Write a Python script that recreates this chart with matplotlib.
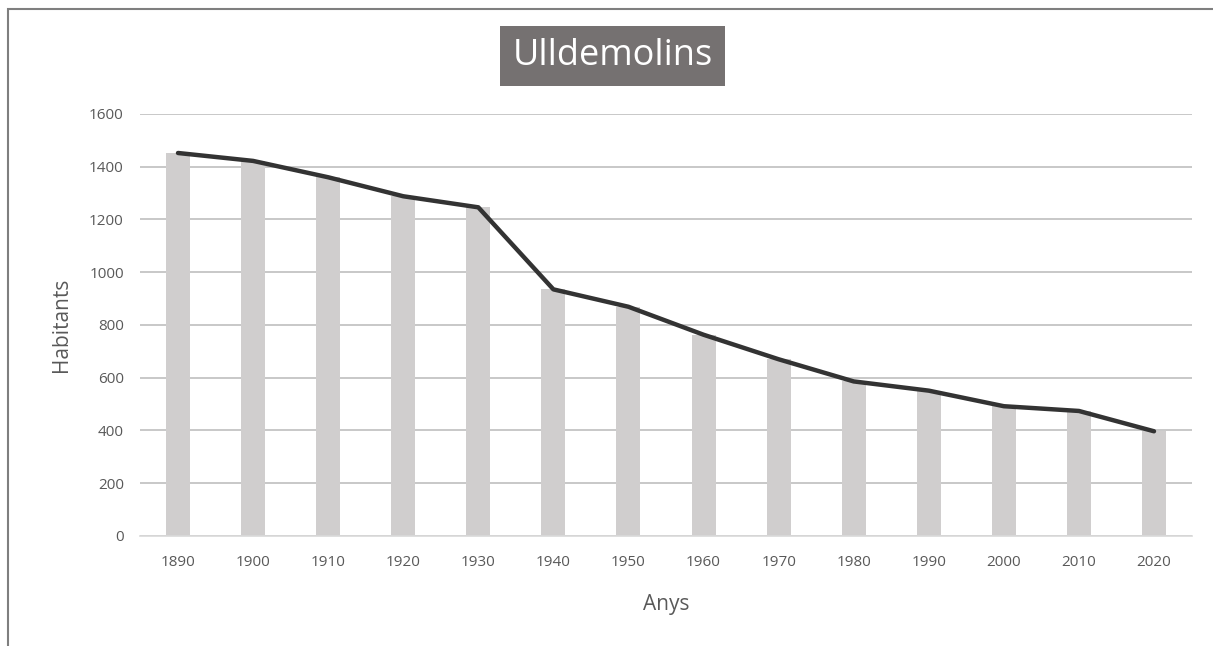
import numpy as np
import matplotlib
matplotlib.use("Agg")
from matplotlib import pyplot as plt
from matplotlib.patches import Rectangle

anys = [1890, 1900, 1910, 1920, 1930, 1940, 1950, 1960, 1970, 1980, 1990, 2000, 2010, 2020]
habitants = [1452, 1422, 1360, 1288, 1246, 935, 869, 763, 670, 586, 551, 492, 474, 397]
yticks = [0, 200, 400, 600, 800, 1000, 1200, 1400, 1600]

plt.rcParams['font.family'] = ['Open Sans', 'DejaVu Sans']

fig = plt.figure(figsize=(12.13, 6.46), dpi=100)
ax = fig.add_axes([0.1158, 0.1703, 0.8665, 0.6533])

x = np.arange(len(anys))
ax.bar(x, habitants, width=0.32, color="#d0cece", zorder=2)
ax.plot(x, habitants, color="#333333", lw=3.2, solid_capstyle="round", zorder=3)

ax.set_xlim(-0.5, len(anys) - 0.5)
ax.set_ylim(0, 1600)
ax.set_yticks(yticks)
ax.set_xticks(x)
ax.set_xticklabels([str(a) for a in anys])
ax.yaxis.grid(True, color="#bfbfbf", lw=1.2, zorder=0)
ax.set_axisbelow(True)
for s in ["top", "right", "left"]:
    ax.spines[s].set_visible(False)
ax.spines["bottom"].set_color("#d9d9d9")
ax.spines["bottom"].set_linewidth(1.2)
ax.tick_params(axis="both", length=0, colors="#595959", labelsize=11)
ax.tick_params(axis="x", pad=14)
ax.tick_params(axis="y", pad=12)

ax.set_xlabel("Anys", fontsize=15, color="#595959", labelpad=17)
ax.set_ylabel("Habitants", fontsize=15, color="#595959", labelpad=12)

fig.text(0.505, 0.913, "Ulldemolins", fontsize=26, color="white", ha="center", va="center",
         bbox=dict(boxstyle="square,pad=0.34", fc="#757171", ec="none"))

# chart border
fig.patches.append(Rectangle((8 / 1213, -0.1), 1.2, 1.1 - 9 / 646, transform=fig.transFigure,
                             fill=False, ec="#7f7f7f", lw=1.5))

fig.savefig("out.png", dpi=100)
